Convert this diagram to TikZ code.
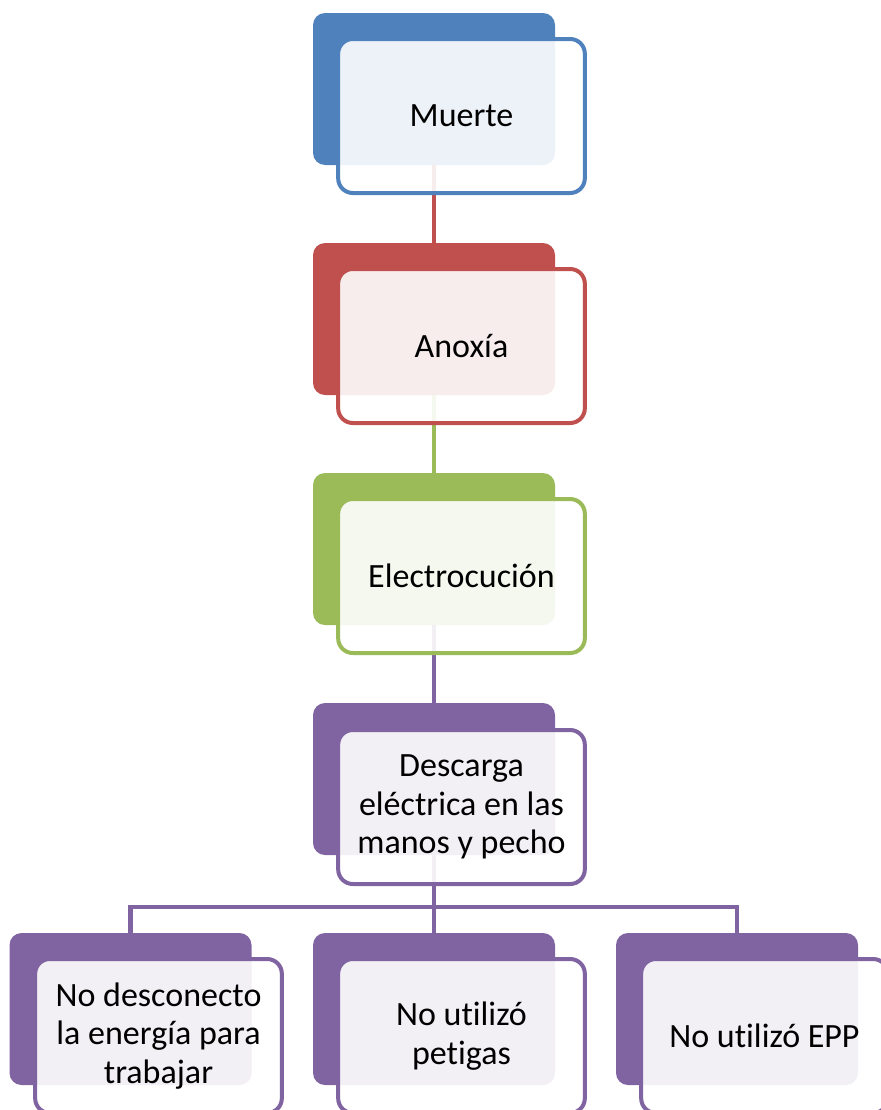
\documentclass[tikz,border=0pt]{standalone}
\usepackage{fontspec}
\setmainfont[Ligatures=NoCommon]{Carlito}
\usetikzlibrary{positioning}

\definecolor{boxblue}{HTML}{4F81BD}
\definecolor{boxred}{HTML}{C0504D}
\definecolor{boxgreen}{HTML}{9BBB59}
\definecolor{boxpurple}{HTML}{8064A2}

\begin{document}
\begin{tikzpicture}[x=0.75pt, y=-0.75pt,
  backbox/.style={fill=#1, rounded corners=9pt, minimum width=181.5pt, minimum height=114pt, inner sep=0pt},
  frontbox/.style={draw=#1, line width=3pt, fill=white, fill opacity=0.9, text opacity=1,
    rounded corners=11pt, minimum width=185pt, minimum height=115.5pt, inner sep=0pt,
    align=center, font=\fontsize{25.5}{28.7}\selectfont},
  link/.style={draw=#1, line width=3.3pt}]
  \useasboundingbox (0,0) rectangle (881,1110);
  \clip (0,0) rectangle (881,1110);

  % back boxes
  \node[backbox=boxblue] (muerteB) at (434,89) {};
  \node[backbox=boxred] (anoxiaB) at (434,319) {};
  \node[backbox=boxgreen] (electroB) at (434,549) {};
  \node[backbox=boxpurple] (descargaB) at (434,779) {};
  \node[backbox=boxpurple] (energiaB) at (130.5,1009) {};
  \node[backbox=boxpurple] (petigasB) at (434,1009) {};
  \node[backbox=boxpurple] (eppB) at (737,1009) {};

  % connectors
  \draw[link=boxred] (muerteB.south) -- (anoxiaB.north);
  \draw[link=boxgreen] (anoxiaB.south) -- (electroB.north);
  \draw[link=boxpurple] (electroB.south) -- (descargaB.north);
  \coordinate (bus) at (434,907);
  \draw[link=boxpurple] (descargaB.south) -- (petigasB.north);
  \draw[link=boxpurple] (bus) -| (energiaB.north);
  \draw[link=boxpurple] (bus) -| (eppB.north);

  % front boxes
  \node[frontbox=boxblue] (muerte) at (461.5,116) {Muerte};
  \node[frontbox=boxred] (anoxia) at (461.5,346) {Anoxía};
  \node[frontbox=boxgreen] (electro) at (461.5,576) {Electrocución};
  \node[frontbox=boxpurple] (descarga) at (461.5,807) {Descarga\\eléctrica en las\\manos y pecho};
  \node[frontbox=boxpurple] (energia) at (158.5,1036) {No desconecto\\la energía para\\trabajar};
  \node[frontbox=boxpurple] (petigas) at (461.5,1036) {No utilizó\\petigas};
  \node[frontbox=boxpurple] (epp) at (764.5,1036) {No utilizó EPP};
\end{tikzpicture}
\end{document}
